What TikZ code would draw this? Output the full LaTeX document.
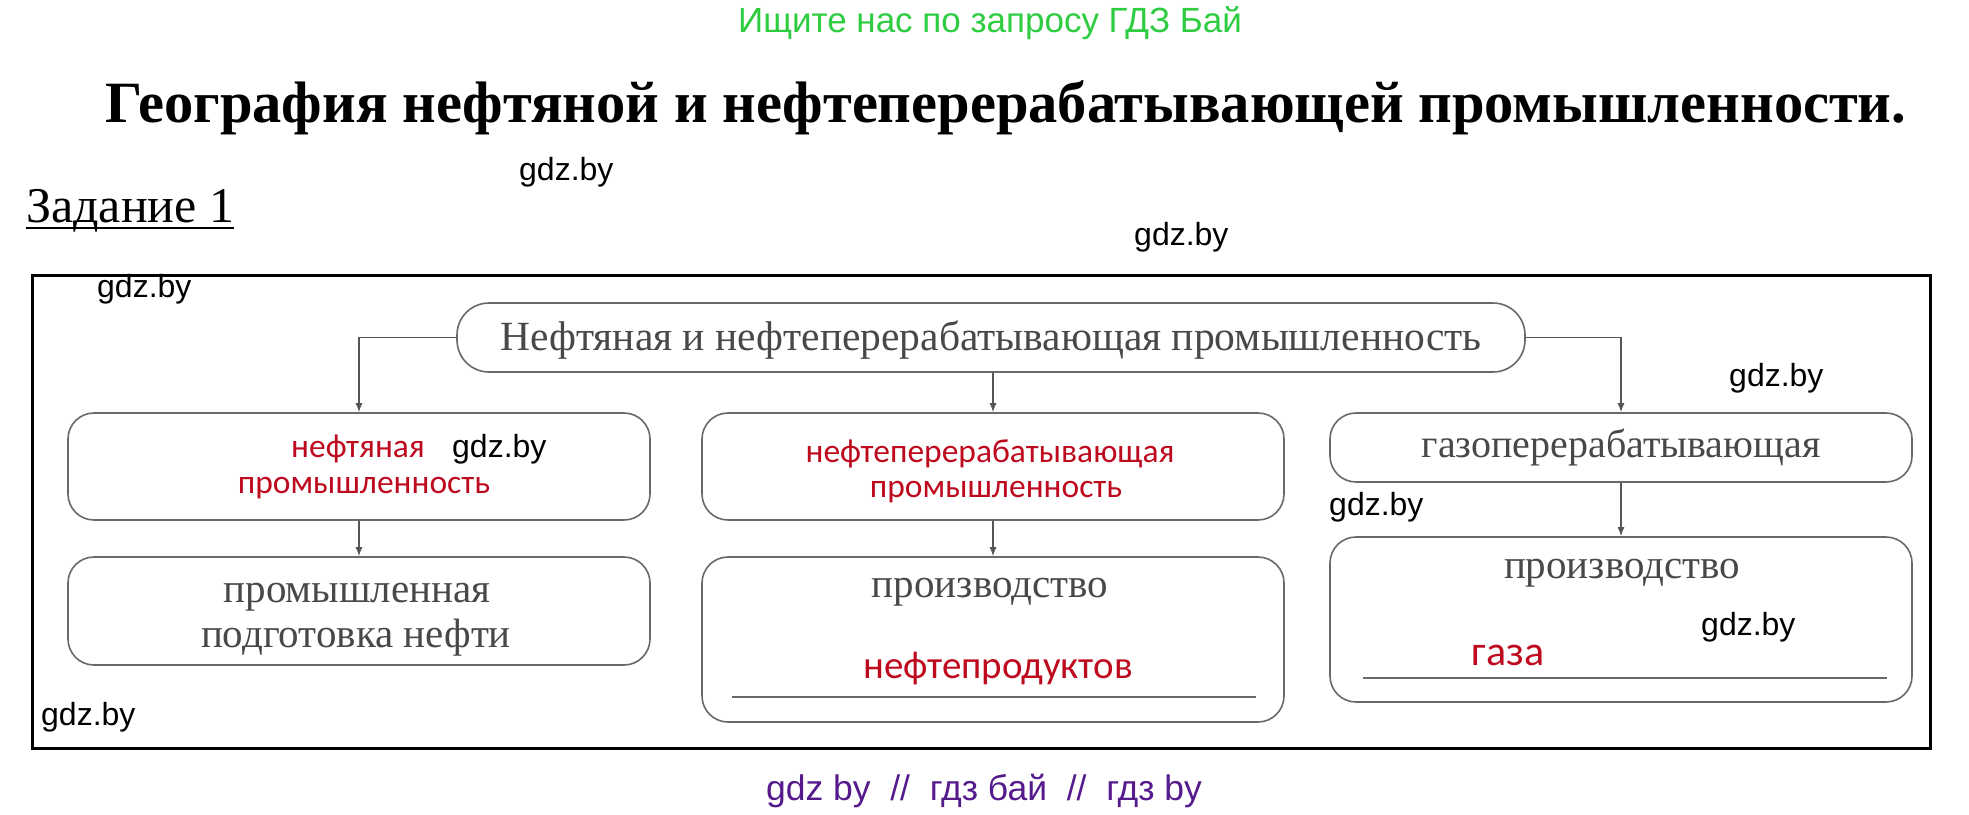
\documentclass[tikz,border=0pt]{standalone}
\usepackage{fontspec}
\setmainfont{Liberation Serif}
\newfontfamily\redfont{Carlito}
\newfontfamily\markfont{Liberation Sans}
\usetikzlibrary{positioning,arrows.meta}
\definecolor{textgray}{RGB}{72,72,72}
\definecolor{boxgray}{RGB}{105,105,105}
\definecolor{linegray}{RGB}{85,85,85}
\definecolor{redink}{RGB}{190,10,30}
\definecolor{markgreen}{RGB}{46,204,64}
\definecolor{markpurple}{RGB}{85,26,139}
\tikzset{>={Latex[length=9pt,width=7pt]},
  box/.style={draw=boxgray, line width=1.6pt, rounded corners=26pt, minimum width=582pt, inner sep=0pt},
  redtext/.style={text=redink, font=\redfont\fontsize{33.5}{36}\selectfont, anchor=base, inner sep=0pt},
  bigred/.style={redtext, font=\redfont\fontsize{39}{42}\selectfont},
  graytext/.style={text=textgray, font=\fontsize{41}{45}\selectfont, anchor=base, inner sep=0pt},
  gdzmark/.style={font=\markfont\fontsize{32}{34}\selectfont, anchor=base west, inner sep=0pt},
  link/.style={->, draw=linegray, line width=1.4pt},
  ruleline/.style={draw=boxgray, line width=1.6pt}}

\begin{document}
\begin{tikzpicture}[x=1pt, y=1pt]
      \useasboundingbox (0,0) rectangle (1969,-814);
      % header
      \node[font=\markfont\fontsize{35}{38}\selectfont, text=markgreen, anchor=base, inner sep=0pt] (search) at (990,-32) {Ищите нас по запросу ГДЗ Бай};
      \node[font=\bfseries\fontsize{58.5}{62}\selectfont, anchor=base, inner sep=0pt] (title) at (1006,-122) {География нефтяной и нефтеперерабатывающей промышленности.};
      \node[font=\fontsize{50}{52}\selectfont, anchor=base west, inner sep=0pt] (task) at (26,-222) {Задание 1};
      \draw[line width=2pt] ([yshift=-6pt]task.base west) -- ([yshift=-6pt]task.base east);
      \draw[line width=3pt] (32,-275) rectangle (1930,-748);
      % boxes
      \node[box, rounded corners=32pt, minimum width=1068pt, minimum height=69pt, text=textgray, font=\fontsize{41.5}{45}\selectfont, text height=25pt, text depth=0pt] (n0) at (991,-337.5) {Нефтяная и нефтеперерабатывающая промышленность};
      \node[box, minimum height=107pt] (b1) at (359,-466.5) {};
      \node[box, minimum height=107pt, right of=b1, node distance=634pt] (b2) {};
      \node[box, minimum height=69pt, text=textgray, font=\fontsize{40}{45}\selectfont, text height=19pt, text depth=0pt] (b3) at (1621,-447.5) {газоперерабатывающая};
      \node[box, minimum height=108pt, below of=b1, node distance=144.5pt] (b4) {};
      \node[box, minimum height=165pt, below of=b2, node distance=173pt] (b5) {};
      \node[box, minimum height=165pt, below of=b3, node distance=172pt] (b6) {};
      % texts in boxes
      \node[redtext] (r1a) at (358,-457) {нефтяная};
      \node[redtext] (r1b) at (364,-493) {промышленность};
      \node[redtext] (r2a) at (990,-462) {нефтеперерабатывающая};
      \node[redtext] (r2b) at (996,-497) {промышленность};
      \node[graytext] (g4a) at (357,-602) {промышленная};
      \node[graytext] (g4b) at (356,-647) {подготовка нефти};
      \node[graytext] (g5) at (990,-597) {производство};
      \node[bigred] (r5) at (998,-678) {нефтепродуктов};
      \draw[ruleline] (732,-697) -- (1256,-697);
      \node[graytext] (g6) at (1622,-578) {производство};
      \node[bigred, font=\redfont\fontsize{42}{44}\selectfont] (r6) at (1508,-665) {газа};
      \draw[ruleline] (1363,-678) -- (1887,-678);
      % connectors
      \draw[link] (n0.west) -| (b1.north);
      \draw[link] (b2.north |- n0.south) -- (b2.north);
      \draw[link] (n0.east) -| (b3.north);
      \draw[link] (b1.south) -- (b4.north);
      \draw[link] (b2.south) -- (b5.north);
      \draw[link] (b3.south) -- (b6.north);
      % watermarks
      \node[gdzmark] (w1) at (519,-180) {gdz.by};
      \node[gdzmark] (w2) at (1134,-245) {gdz.by};
      \node[gdzmark] (w3) at (97,-297) {gdz.by};
      \node[gdzmark] (w4) at (1729,-386) {gdz.by};
      \node[gdzmark] (w5) at (452,-457) {gdz.by};
      \node[gdzmark] (w6) at (1329,-515) {gdz.by};
      \node[gdzmark] (w7) at (1701,-635) {gdz.by};
      \node[gdzmark] (w8) at (41,-725) {gdz.by};
      \node[font=\markfont\fontsize{35.5}{38}\selectfont, text=markpurple, anchor=base, inner sep=0pt] (footer) at (984,-800) {gdz by \ // \ гдз бай \ // \ гдз by};
\end{tikzpicture}
\end{document}
